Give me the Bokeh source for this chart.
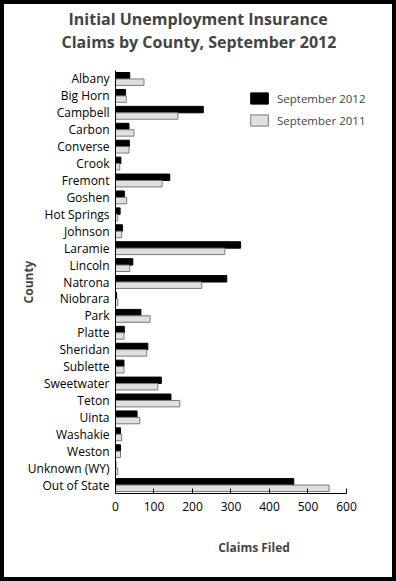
from bokeh.plotting import figure
from bokeh.layouts import column
from bokeh.models import Legend, LegendItem, Title, FixedTicker
from bokeh.transform import dodge
from bokeh.embed import file_html
from bokeh.resources import INLINE

counties = ["Albany", "Big Horn", "Campbell", "Carbon", "Converse", "Crook", "Fremont",
            "Goshen", "Hot Springs", "Johnson", "Laramie", "Lincoln", "Natrona", "Niobrara",
            "Park", "Platte", "Sheridan", "Sublette", "Sweetwater", "Teton", "Uinta",
            "Washakie", "Weston", "Unknown (WY)", "Out of State"]
sep2012 = [37, 26, 228, 35, 36, 14, 141, 23, 12, 18, 325, 45, 289, 3, 66, 23, 84, 22,
           119, 144, 56, 13, 13, 1, 463]
sep2011 = [74, 28, 162, 48, 35, 11, 121, 29, 6, 16, 284, 37, 224, 6, 90, 22, 81, 22,
           110, 167, 63, 16, 13, 6, 555]
x_ticks = [0, 100, 200, 300, 400, 500, 600]

FONT = "Open Sans"

p = figure(width=388, height=573, y_range=list(reversed(counties)), x_range=(0, 719.5),
           output_backend="svg", toolbar_location=None,
           min_border_left=111, min_border_right=0, min_border_top=66, min_border_bottom=84)

src = dict(county=counties, s12=sep2012, s11=sep2011)
r12 = p.hbar(y=dodge("county", 0.19, range=p.y_range), right="s12", left=0, height=0.38,
             source=src, fill_color="black", line_color="black", line_width=1)
r11 = p.hbar(y=dodge("county", -0.19, range=p.y_range), right="s11", left=0, height=0.38,
             source=src, fill_color="#e0e0e0", line_color="#7a7a7a", line_width=1)

p.outline_line_color = None
p.xgrid.grid_line_color = None
p.ygrid.grid_line_color = None
p.background_fill_color = "white"
p.border_fill_color = "white"

xa = p.xaxis[0]
xa.ticker = FixedTicker(ticks=x_ticks)
xa.bounds = (0, 600)
xa.major_tick_in = 5
xa.major_tick_out = 0
xa.minor_tick_line_color = None
xa.axis_line_color = "black"
xa.major_tick_line_color = "black"
xa.major_label_text_font = FONT
xa.major_label_text_font_size = "12px"
xa.major_label_text_color = "black"
xa.major_label_standoff = 8
xa.axis_label = "Claims Filed"
xa.axis_label_text_font = FONT
xa.axis_label_text_font_style = "bold"
xa.axis_label_text_font_size = "12px"
xa.axis_label_standoff = 25

ya = p.yaxis[0]
ya.major_tick_line_color = None
ya.major_tick_in = 0
ya.major_tick_out = 0
ya.minor_tick_line_color = None
ya.major_label_text_font = FONT
ya.major_label_text_font_size = "12px"
ya.major_label_text_color = "black"
ya.major_label_standoff = 6
ya.axis_label = "County"
ya.axis_label_text_font = FONT
ya.axis_label_text_font_style = "bold"
ya.axis_label_text_font_size = "12px"
ya.axis_label_standoff = -12

legend = Legend(items=[LegendItem(label="September 2012", renderers=[r12]),
                       LegendItem(label="September 2011", renderers=[r11])],
                location=(133, 363), border_line_color=None, background_fill_alpha=0,
                padding=0, margin=0, spacing=2, glyph_width=22, glyph_height=14,
                label_height=20, label_text_font=FONT, label_text_font_size="11.5px",
                label_standoff=7)
p.add_layout(legend)

p.add_layout(Title(text="Claims by County, September 2012", align="left",
                   text_font=FONT, text_font_size="16px", text_font_style="bold",
                   offset=-54, standoff=35), "above")
p.add_layout(Title(text="Initial Unemployment Insurance", align="left",
                   text_font=FONT, text_font_size="16px", text_font_style="bold",
                   offset=-47, standoff=-36), "above")

layout = column(p, styles={"border": "4px solid black"})

open("out.html", "w").write(file_html(layout, INLINE))
